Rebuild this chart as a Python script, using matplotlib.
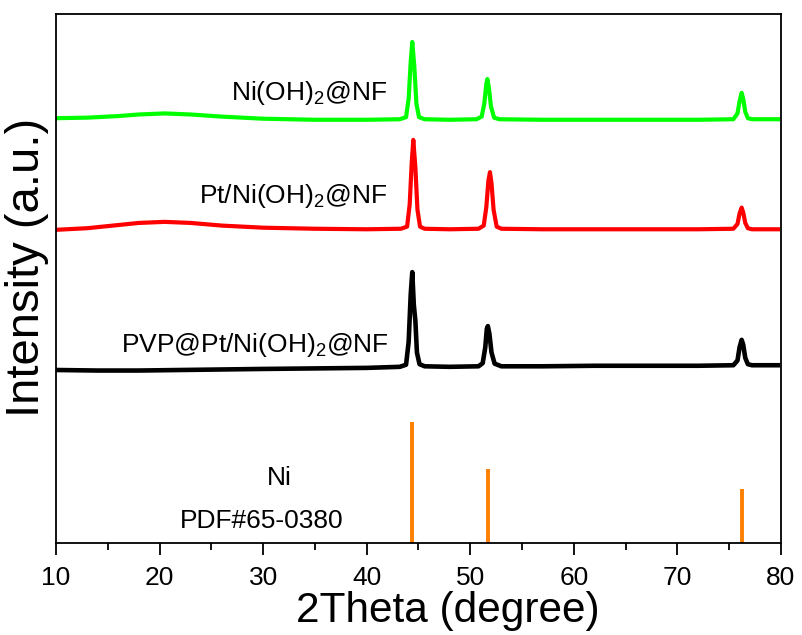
import matplotlib
matplotlib.use('Agg')
import matplotlib.pyplot as plt

plt.rcParams['font.family'] = ['Liberation Sans', 'DejaVu Sans']
plt.rcParams['mathtext.default'] = 'regular'

# Ni(OH)2@NF (green)
green_x = [10, 13, 16, 18, 20.5, 23, 26, 30, 35, 40, 43.2, 43.8, 44.05, 44.25, 44.4, 44.6, 44.8, 45.05, 45.6, 48,
           50.6, 51.1, 51.35, 51.55, 51.65, 51.8, 52.0, 52.3, 52.8, 57, 62, 67, 72, 75.4, 75.8, 76.0, 76.2, 76.35,
           76.55, 76.8, 77.2, 79.7]
green_y = [80.3, 80.4, 80.7, 81.0, 81.2, 81.0, 80.6, 80.2, 80.0, 80.0, 80.1, 80.5, 84, 91, 94.7, 90, 83, 80.5, 80.1, 80.0,
           80.1, 80.6, 83, 86.8, 87.7, 86, 82.5, 80.4, 80.1, 80.0, 80.0, 80.0, 80.0, 80.1, 81.2, 83.5, 85.1, 84,
           81.5, 80.3, 80.1, 80.1]

# Pt/Ni(OH)2@NF (red)
red_x = [10, 13, 16, 18, 20.5, 23, 26, 30, 35, 40, 43.3, 43.9, 44.15, 44.35, 44.5, 44.7, 44.9, 45.15, 45.6, 48,
         50.8, 51.3, 51.55, 51.75, 51.9, 52.05, 52.25, 52.55, 53, 57, 62, 67, 72, 75.4, 75.8, 76.0, 76.2, 76.35,
         76.55, 76.8, 77.2, 79.7]
red_y = [59.2, 59.5, 60.1, 60.5, 60.7, 60.5, 60.0, 59.6, 59.4, 59.3, 59.4, 59.8, 64, 72, 76.2, 71, 63, 59.8, 59.4, 59.3,
         59.4, 60, 63.5, 68.5, 70.1, 68, 63, 59.8, 59.4, 59.3, 59.3, 59.3, 59.3, 59.4, 60.3, 62.3, 63.4, 62.5,
         60.5, 59.5, 59.3, 59.3]

# PVP@Pt/Ni(OH)2@NF (black)
black_x = [10, 14, 18, 22, 26, 30, 35, 40, 43.2, 43.8, 44.05, 44.25, 44.4, 44.55, 44.7, 44.85, 45.1, 45.6, 48,
           50.8, 51.2, 51.45, 51.6, 51.7, 51.85, 52.05, 52.35, 53, 57, 62, 67, 72, 75.4, 75.8, 76.0, 76.2, 76.35,
           76.55, 76.8, 77.2, 79.7]
black_y = [32.7, 32.6, 32.6, 32.7, 32.8, 32.9, 33.0, 33.1, 33.3, 33.7, 38, 47, 51.2, 45, 42, 36, 33.8, 33.4, 33.3,
           33.4, 34, 37, 40.5, 41.0, 39.5, 36, 33.9, 33.4, 33.4, 33.5, 33.5, 33.5, 33.6, 34.5, 37, 38.4, 37.5,
           35, 33.8, 33.6, 33.6]

# Ni reference PDF#65-0380
ref_x = [44.4, 51.7, 76.2]
ref_h = [22.9, 14.0, 10.2]

fig = plt.figure(figsize=(8.03, 6.35), dpi=100)
ax = fig.add_axes([0.0697, 0.1449, 0.9029, 0.8331])

ax.plot(green_x, green_y, color='#00FF00', lw=3)
ax.plot(red_x, red_y, color='#FF0000', lw=3)
ax.plot(black_x, black_y, color='#000000', lw=3.3)
ax.vlines(ref_x, 0, ref_h, color='#FF8000', lw=2.8)

ax.text(42.0, 83.7, 'Ni(OH)$_2$@NF', ha='right', va='baseline', fontsize=19)
ax.text(42.0, 64.3, 'Pt/Ni(OH)$_2$@NF', ha='right', va='baseline', fontsize=19)
ax.text(42.1, 36.1, 'PVP@Pt/Ni(OH)$_2$@NF', ha='right', va='baseline', fontsize=19)
ax.text(31.6, 11.0, 'Ni', ha='center', va='baseline', fontsize=19)
ax.text(29.9, 2.8, 'PDF#65-0380', ha='center', va='baseline', fontsize=19)

ax.set_xlim(10, 80)
ax.set_ylim(0, 100)
ax.set_xticks(range(10, 81, 10))
ax.set_xticks(range(15, 80, 10), minor=True)
ax.set_yticks([])
ax.tick_params(axis='x', which='major', direction='out', length=8.5, width=1.3, labelsize=19, pad=8)
ax.tick_params(axis='x', which='minor', direction='out', length=5, width=1.3)
for s in ax.spines.values():
    s.set_linewidth(1.3)

ax.set_xlabel('2Theta (degree)', fontsize=30.5)
ax.xaxis.set_label_coords(0.541, -0.149)
ax.xaxis.label.set_va('baseline')
ax.set_ylabel('Intensity (a.u.)', fontsize=34)
ax.yaxis.set_label_coords(-0.01, 0.52)

fig.savefig('out.png', dpi=100)
